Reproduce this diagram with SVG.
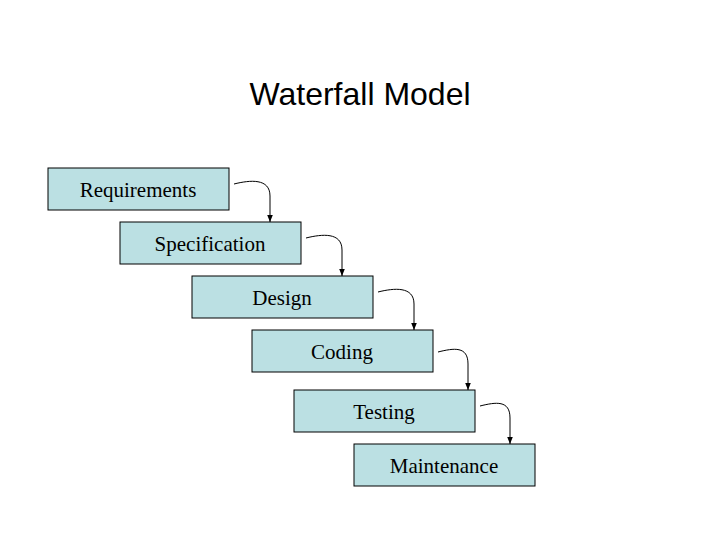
<svg xmlns="http://www.w3.org/2000/svg" width="720" height="540" viewBox="0 0 720 540">
<style>
.b{fill:#BBE0E3;stroke:#000;stroke-width:1}
.t{font-family:"Liberation Serif",serif;font-size:21px;text-anchor:middle}
.c{fill:none;stroke:#000;stroke-width:1;marker-end:url(#a)}
</style>
<defs><marker id="a" viewBox="0 0 10 10" refX="10" refY="5" markerWidth="7" markerHeight="7" orient="auto"><path d="M0,1 L10,5 L0,9z"/></marker></defs>
<rect width="720" height="540" fill="#fff"/>
<text x="360" y="105" font-family="Liberation Sans,sans-serif" font-size="32" text-anchor="middle">Waterfall Model</text>
<g id="n1"><rect class="b" x="48" y="168" width="181" height="42"/><text class="t" x="138" y="197">Requirements</text></g>
<g id="n2"><rect class="b" x="120" y="222" width="181" height="42"/><text class="t" x="210" y="251">Specification</text></g>
<g id="n3"><rect class="b" x="192" y="276" width="181" height="42"/><text class="t" x="282" y="305">Design</text></g>
<g id="n4"><rect class="b" x="252" y="330" width="181" height="42"/><text class="t" x="342" y="359">Coding</text></g>
<g id="n5"><rect class="b" x="294" y="390" width="181" height="42"/><text class="t" x="384" y="419">Testing</text></g>
<g id="n6"><rect class="b" x="354" y="444" width="181" height="42"/><text class="t" x="444" y="473">Maintenance</text></g>
<g id="connectors">
<path class="c" d="M234,184 C250,180 270,178 270,196 L270,222"/>
<path class="c" d="M306,238 C322,234 342,232 342,250 L342,276"/>
<path class="c" d="M378,292 C394,288 414,286 414,304 L414,330"/>
<path class="c" d="M438,352 C454,348 468,346 468,364 L468,390"/>
<path class="c" d="M480,406 C496,402 510,400 510,418 L510,444"/>
</g>
</svg>
